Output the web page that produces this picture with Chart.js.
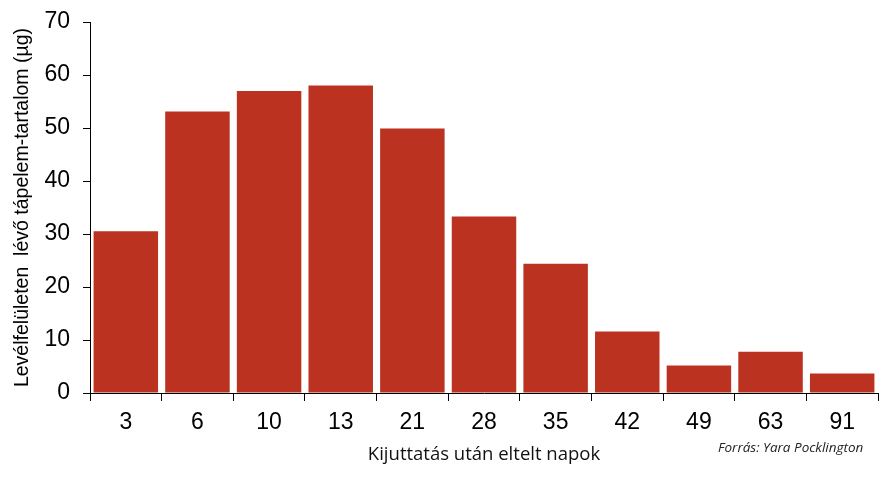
<!DOCTYPE html>
<html>
<head>
<meta charset="utf-8">
<script src="https://cdn.jsdelivr.net/npm/chart.js@4.4.1/dist/chart.umd.min.js"></script>
<style>
  html, body { margin: 0; padding: 0; background: #ffffff; }
  #wrap { width: 888px; height: 477px; position: relative; }
</style>
</head>
<body>
<div id="wrap"><canvas id="c" width="888" height="477"></canvas></div>
<script>
const categories = ['3', '6', '10', '13', '21', '28', '35', '42', '49', '63', '91'];
const values = [30.5, 53.1, 57.0, 58.0, 49.9, 33.3, 24.4, 11.6, 5.2, 7.8, 3.7];
const yTicks = [0, 10, 20, 30, 40, 50, 60, 70];
const yTitle = 'Levélfelületen  lévő tápelem-tartalom (µg)';
const xTitle = 'Kijuttatás után eltelt napok';
const sourceText = 'Forrás: Yara Pocklington';

const sourcePlugin = {
  id: 'sourceText',
  afterDraw(chart) {
    const ctx = chart.ctx;
    ctx.save();
    ctx.font = 'italic 13.5px "Open Sans"';
    ctx.fillStyle = '#222222';
    ctx.textAlign = 'left';
    ctx.textBaseline = 'middle';
    ctx.fillText(sourceText, 718, 448);
    ctx.restore();
  }
};

new Chart(document.getElementById('c'), {
  type: 'bar',
  data: {
    labels: categories,
    datasets: [{
      data: values,
      backgroundColor: '#BB3220',
      borderWidth: 0,
      barPercentage: 0.9,
      categoryPercentage: 1.0
    }]
  },
  options: {
    responsive: false,
    animation: false,
    layout: { padding: { top: 22, right: 10, left: 0, bottom: 0 } },
    plugins: { legend: { display: false }, tooltip: { enabled: false }, title: { display: false } },
    scales: {
      x: {
        grid: { display: true, offset: true, drawOnChartArea: false, drawTicks: true, tickLength: 8, color: '#000000', lineWidth: 1 },
        border: { display: true, color: '#000000', width: 1 },
        ticks: { color: '#000000', font: { family: '"Liberation Sans", Arial', size: 23 }, padding: 8, maxRotation: 0 },
        title: { display: true, text: xTitle, color: '#111111', font: { family: '"Open Sans"', size: 18.5 }, padding: { top: 0, bottom: 11 } },
        afterFit(scale) { scale.height = 84; scale.paddingLeft = 0; scale.paddingRight = 0; }
      },
      y: {
        min: 0, max: 70,
        afterBuildTicks(scale) { scale.ticks = yTicks.map(v => ({ value: v })); },
        grid: { display: true, drawOnChartArea: false, drawTicks: true, tickLength: 7, color: '#000000', lineWidth: 1 },
        border: { display: true, color: '#000000', width: 1 },
        ticks: { color: '#000000', font: { family: '"Liberation Sans", Arial', size: 23 }, padding: 13 },
        title: { display: true, text: yTitle, color: '#000000', font: { family: '"Liberation Sans", Arial', size: 19.5 }, padding: { top: 11, bottom: 0 } },
        afterFit(scale) { scale.width = 90; scale.paddingTop = 0; scale.paddingBottom = 0; }
      }
    }
  },
  plugins: [sourcePlugin]
});
</script>
</body>
</html>
